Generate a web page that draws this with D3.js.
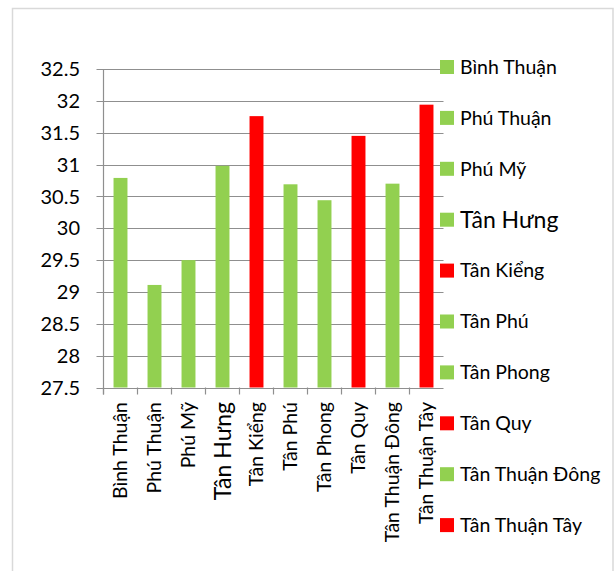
<!DOCTYPE html>
<html>
<head>
<meta charset="utf-8">
<script src="https://cdn.jsdelivr.net/npm/d3@7"></script>
<style>
  body { margin: 0; background: #fff; }
  svg text { font-family: Lato, "Open Sans", sans-serif; fill: #000; }
</style>
</head>
<body>
<div id="chart"></div>
<script>
// data
var categories = ["Bình Thuận", "Phú Thuận", "Phú Mỹ", "Tân Hưng", "Tân Kiểng",
    "Tân Phú", "Tân Phong", "Tân Quy", "Tân Thuận Đông", "Tân Thuận Tây"];
var values = [30.79, 29.11, 29.5, 30.98, 31.76, 30.69, 30.44, 31.45, 30.7, 31.94];
var highlight = [false, false, false, false, true, false, false, true, false, true];
var yTicks = [27.5, 28, 28.5, 29, 29.5, 30, 30.5, 31, 31.5, 32, 32.5];

var svgWidth = 615;
var svgHeight = 571;
var plot = { left: 103.5, right: 443.5, top: 69, bottom: 387.5 };
var green = "#92D050";
var red = "#FF0000";

// "Tân Hưng" is typeset larger in the original
function fontSize(d) {
    return d == "Tân Hưng" ? "23px" : "19.5px";
}

var svg = d3.select("#chart").append("svg")
    .attr("width", svgWidth)
    .attr("height", svgHeight);

// outer frame
svg.append("rect")
    .attr("x", 12.5).attr("y", 8.5)
    .attr("width", 600.5).attr("height", 580)
    .attr("fill", "none")
    .attr("stroke", "#d9d9d9")
    .attr("stroke-width", 1.5);

var xScale = d3.scaleBand()
    .domain(categories)
    .range([plot.left, plot.right])
    .paddingInner(0.59)
    .paddingOuter(0.295);

var yScale = d3.scaleLinear()
    .domain([27.5, 32.5])
    .range([plot.bottom, plot.top]);

// gridlines
svg.append("g")
    .selectAll("line")
    .data(yTicks)
    .enter()
    .append("line")
    .attr("x1", plot.left - 7)
    .attr("x2", plot.right)
    .attr("y1", (d) => Math.round(yScale(d)) + 0.5)
    .attr("y2", (d) => Math.round(yScale(d)) + 0.5)
    .attr("stroke", "#8f8f8f")
    .attr("stroke-width", 1.2);

// y labels
svg.append("g")
    .selectAll("text")
    .data(yTicks)
    .enter()
    .append("text")
    .attr("x", 80)
    .attr("y", (d) => yScale(d))
    .attr("dy", "0.36em")
    .attr("text-anchor", "end")
    .style("font-size", "20px")
    .text((d) => d);

// bars
svg.append("g")
    .selectAll("rect")
    .data(values)
    .enter()
    .append("rect")
    .attr("x", (d, i) => xScale(categories[i]))
    .attr("y", (d) => yScale(d))
    .attr("width", xScale.bandwidth())
    .attr("height", (d) => yScale(27.5) - yScale(d))
    .attr("fill", (d, i) => highlight[i] ? red : green);

// axes lines
svg.append("line")
    .attr("x1", plot.left).attr("x2", plot.left)
    .attr("y1", plot.top).attr("y2", plot.bottom + 7)
    .attr("stroke", "#8f8f8f").attr("stroke-width", 1.2);

var step = xScale.step();
svg.append("g")
    .selectAll("line")
    .data(categories)
    .enter()
    .append("line")
    .attr("x1", (d, i) => plot.left + i * step)
    .attr("x2", (d, i) => plot.left + i * step)
    .attr("y1", plot.bottom)
    .attr("y2", plot.bottom + 7)
    .attr("stroke", "#8f8f8f")
    .attr("stroke-width", 1.2);

// x labels, rotated
svg.append("g")
    .selectAll("text")
    .data(categories)
    .enter()
    .append("text")
    .attr("transform", (d) => "translate(" + (xScale(d) + xScale.bandwidth() / 2) + ",402) rotate(-90)")
    .attr("dy", "0.35em")
    .attr("text-anchor", "end")
    .style("font-size", fontSize)
    .text((d) => d);

// legend
var legend = svg.append("g")
    .selectAll("g")
    .data(categories)
    .enter()
    .append("g")
    .attr("transform", (d, i) => "translate(440," + (67 + i * 50.9) + ")");

legend.append("rect")
    .attr("x", 0).attr("y", -7)
    .attr("width", 14).attr("height", 14)
    .attr("fill", (d, i) => highlight[i] ? red : green);

legend.append("text")
    .attr("x", 20)
    .attr("dy", "0.35em")
    .style("font-size", fontSize)
    .text((d) => d);
</script>
</body>
</html>
